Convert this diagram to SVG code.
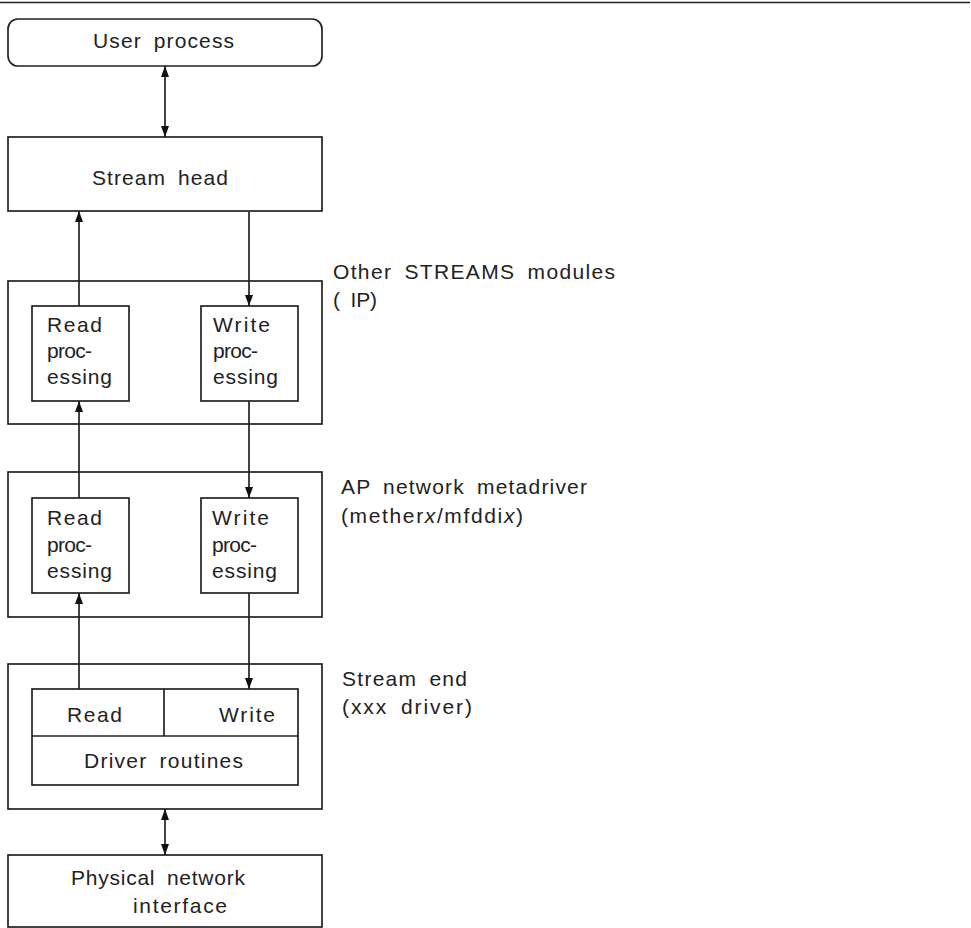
<svg xmlns="http://www.w3.org/2000/svg" width="971" height="928" viewBox="0 0 971 928">
<defs>
<style>
.box{fill:#fff;stroke:#222;stroke-width:1.7}
.ln{fill:none;stroke:#222;stroke-width:1.7}
.t{font-family:"Liberation Sans",Arial,sans-serif;font-size:21px;fill:#222;word-spacing:5px}
</style>
<marker id="ah" viewBox="0 0 11 8" refX="11" refY="4" markerWidth="11" markerHeight="8" markerUnits="userSpaceOnUse" orient="auto-start-reverse">
<path d="M0,0 L11,4 L0,8 z" fill="#111"/>
</marker>
</defs>
<rect width="971" height="928" fill="#fff"/>
<line x1="0" y1="2.5" x2="970" y2="2.5" stroke="#222" stroke-width="1.7"/>

<g id="user-process">
<rect class="box" x="8" y="19" width="314" height="47" rx="10"/>
<text class="t" x="93" y="48" textLength="141" lengthAdjust="spacing">User process</text>
</g>

<g id="stream-head">
<rect class="box" x="8" y="137" width="314" height="74"/>
<text class="t" x="92" y="185" textLength="136" lengthAdjust="spacing">Stream head</text>
</g>

<g id="other-modules">
<rect class="box" x="8" y="281" width="314" height="143"/>
<text class="t" x="333" y="279" textLength="282" lengthAdjust="spacing">Other STREAMS modules</text>
<text class="t" x="333" y="307" textLength="44" lengthAdjust="spacing">( IP)</text>
</g>
<g id="m1-read">
<rect class="box" x="32" y="306" width="97" height="95"/>
<text class="t" x="47" y="332" textLength="55" lengthAdjust="spacing">Read</text>
<text class="t" x="47" y="358" textLength="45" lengthAdjust="spacing">proc-</text>
<text class="t" x="47" y="384" textLength="65" lengthAdjust="spacing">essing</text>
</g>
<g id="m1-write">
<rect class="box" x="201" y="306" width="97" height="95"/>
<text class="t" x="213" y="332" textLength="57" lengthAdjust="spacing">Write</text>
<text class="t" x="213" y="358" textLength="45" lengthAdjust="spacing">proc-</text>
<text class="t" x="213" y="384" textLength="65" lengthAdjust="spacing">essing</text>
</g>

<g id="metadriver">
<rect class="box" x="8" y="472" width="314" height="145"/>
<text class="t" x="341" y="494" textLength="246" lengthAdjust="spacing">AP network metadriver</text>
<text class="t" x="341" y="523" textLength="182" lengthAdjust="spacing">(mether<tspan font-style="italic">x</tspan>/mfddi<tspan font-style="italic">x</tspan>)</text>
</g>
<g id="m2-read">
<rect class="box" x="32" y="498" width="97" height="95"/>
<text class="t" x="47" y="525" textLength="55" lengthAdjust="spacing">Read</text>
<text class="t" x="47" y="552" textLength="45" lengthAdjust="spacing">proc-</text>
<text class="t" x="47" y="578" textLength="65" lengthAdjust="spacing">essing</text>
</g>
<g id="m2-write">
<rect class="box" x="201" y="498" width="97" height="95"/>
<text class="t" x="212" y="525" textLength="57" lengthAdjust="spacing">Write</text>
<text class="t" x="212" y="552" textLength="45" lengthAdjust="spacing">proc-</text>
<text class="t" x="212" y="578" textLength="65" lengthAdjust="spacing">essing</text>
</g>

<g id="stream-end">
<rect class="box" x="8" y="664" width="314" height="145"/>
<text class="t" x="342" y="686" textLength="125" lengthAdjust="spacing">Stream end</text>
<text class="t" x="342" y="714" textLength="130" lengthAdjust="spacing">(xxx driver)</text>
</g>
<g id="driver-routines">
<rect class="box" x="32" y="689" width="266" height="96"/>
<line class="ln" x1="32" y1="736" x2="298" y2="736"/>
<line class="ln" x1="164" y1="689" x2="164" y2="736"/>
<text class="t" x="67" y="722" textLength="55" lengthAdjust="spacing">Read</text>
<text class="t" x="219" y="722" textLength="56" lengthAdjust="spacing">Write</text>
<text class="t" x="84" y="768" textLength="159" lengthAdjust="spacing">Driver routines</text>
</g>

<g id="physical">
<rect class="box" x="8" y="855" width="314" height="72"/>
<text class="t" x="71" y="885" textLength="174" lengthAdjust="spacing">Physical network</text>
<text class="t" x="133" y="913" textLength="94" lengthAdjust="spacing">interface</text>
</g>

<g id="connectors">
<line class="ln" x1="165" y1="66" x2="165" y2="137" marker-start="url(#ah)" marker-end="url(#ah)"/>
<line class="ln" x1="79" y1="306" x2="79" y2="211" marker-end="url(#ah)"/>
<line class="ln" x1="249" y1="212" x2="249" y2="306" marker-end="url(#ah)"/>
<line class="ln" x1="79" y1="498" x2="79" y2="401" marker-end="url(#ah)"/>
<line class="ln" x1="249" y1="401" x2="249" y2="498" marker-end="url(#ah)"/>
<line class="ln" x1="79" y1="689" x2="79" y2="593" marker-end="url(#ah)"/>
<line class="ln" x1="249" y1="593" x2="249" y2="689" marker-end="url(#ah)"/>
<line class="ln" x1="165" y1="809" x2="165" y2="855" marker-start="url(#ah)" marker-end="url(#ah)"/>
</g>
</svg>
